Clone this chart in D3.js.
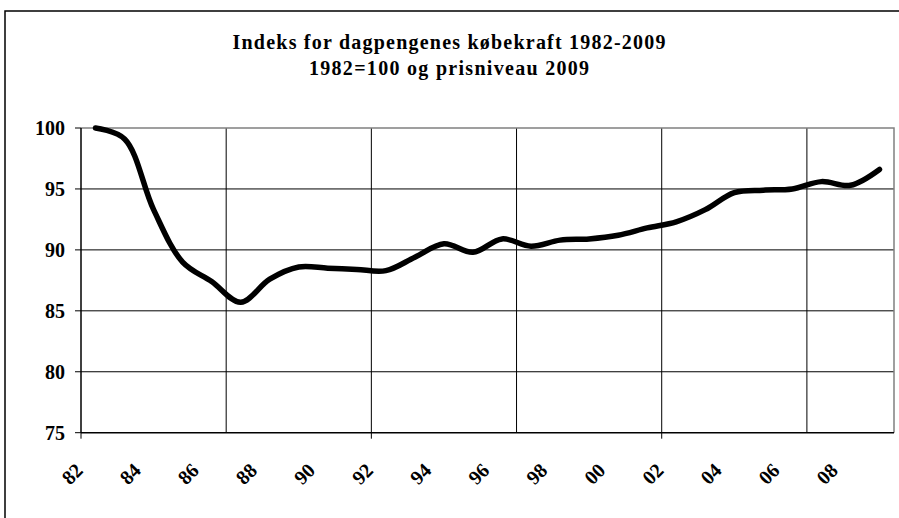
<!DOCTYPE html>
<html>
<head>
    <title>Indeks for dagpengenes købekraft 1982-2009</title>
    <script src="https://d3js.org/d3.v7.min.js"></script>
    <style>
        body { margin: 0; background: #fff; }
        text { font-family: "Liberation Serif", "Times New Roman", serif; font-weight: bold; fill: #000; }
    </style>
</head>
<body>
    <div id="chart"></div>

    <script>
        // data
        const years = d3.range(1982, 2010);
        const values = [100, 99.1, 93.3, 89.0, 87.4, 85.7, 87.6, 88.6, 88.5, 88.4,
                        88.3, 89.4, 90.5, 89.8, 90.9, 90.3, 90.8, 90.9, 91.2, 91.8,
                        92.3, 93.3, 94.7, 94.9, 95.0, 95.6, 95.3, 96.6];
        const yTicks = [75, 80, 85, 90, 95, 100];
        const labelYears = d3.range(1982, 2010, 2);
        const gridYears = [1987, 1992, 1997, 2002, 2007];
        const tickYears = [1982, 1992, 2002];
        const titleLines = ["Indeks for dagpengenes købekraft 1982-2009", "1982=100 og prisniveau 2009"];

        const width = 899;
        const height = 518;
        const plot = { left: 81, right: 894, top: 128, bottom: 432.7 };

        const svg = d3.select("#chart")
            .append("svg")
            .attr("width", width)
            .attr("height", height);

        // outer chart frame (runs off the picture on right and bottom)
        svg.append("rect")
            .attr("x", 5).attr("y", 11)
            .attr("width", 1000).attr("height", 600)
            .attr("fill", "none").attr("stroke", "#000").attr("stroke-width", 1.5);

        // title
        const titleWidths = [433, 280];
        svg.selectAll(".title")
            .data(titleLines)
            .enter()
            .append("text")
            .attr("class", "title")
            .attr("x", 449)
            .attr("y", (d, i) => 49 + i * 26)
            .attr("text-anchor", "middle")
            .attr("font-size", "20px")
            .attr("textLength", (d, i) => titleWidths[i])
            .attr("lengthAdjust", "spacing")
            .text(d => d);

        // category band scale: one band per year
        const x = d3.scaleBand()
            .domain(years)
            .range([plot.left, plot.right]);

        const y = d3.scaleLinear()
            .domain([75, 100])
            .range([plot.bottom, plot.top]);

        // horizontal gridlines
        svg.selectAll(".hgrid")
            .data(yTicks.filter(v => v > 75 && v < 100))
            .enter()
            .append("line")
            .attr("x1", plot.left).attr("x2", plot.right)
            .attr("y1", d => y(d)).attr("y2", d => y(d))
            .attr("stroke", "#000").attr("stroke-width", 1);

        // vertical gridlines at band boundaries
        svg.selectAll(".vgrid")
            .data(gridYears)
            .enter()
            .append("line")
            .attr("x1", d => x(d)).attr("x2", d => x(d))
            .attr("y1", plot.top).attr("y2", plot.bottom)
            .attr("stroke", "#000").attr("stroke-width", 1);

        // plot area border (top, right)
        svg.append("path")
            .attr("d", `M${plot.left},${y(100)}H${plot.right}V${plot.bottom}`)
            .attr("fill", "none").attr("stroke", "#808080").attr("stroke-width", 1.5);

        // y axis
        const yAxis = svg.append("g");
        yAxis.append("line")
            .attr("x1", plot.left).attr("x2", plot.left)
            .attr("y1", plot.top).attr("y2", plot.bottom)
            .attr("stroke", "#000").attr("stroke-width", 1.5);
        yAxis.selectAll(".ytick")
            .data(yTicks)
            .enter()
            .append("line")
            .attr("x1", plot.left - 6).attr("x2", plot.left)
            .attr("y1", d => y(d)).attr("y2", d => y(d))
            .attr("stroke", "#000").attr("stroke-width", 1);
        yAxis.selectAll(".ylab")
            .data(yTicks)
            .enter()
            .append("text")
            .attr("x", 65)
            .attr("y", d => y(d))
            .attr("dy", "0.35em")
            .attr("text-anchor", "end")
            .attr("font-size", "20px")
            .text(d => d);

        // x axis
        const xAxis = svg.append("g");
        xAxis.append("line")
            .attr("x1", plot.left).attr("x2", plot.right)
            .attr("y1", plot.bottom).attr("y2", plot.bottom)
            .attr("stroke", "#000").attr("stroke-width", 1.5);
        xAxis.selectAll(".xtick")
            .data(tickYears)
            .enter()
            .append("line")
            .attr("x1", d => x(d)).attr("x2", d => x(d))
            .attr("y1", plot.bottom).attr("y2", plot.bottom + 6)
            .attr("stroke", "#000").attr("stroke-width", 1);
        xAxis.selectAll(".xlab")
            .data(labelYears)
            .enter()
            .append("text")
            .attr("transform", d => `translate(${x(d) + x.bandwidth() / 2 - 23.5},${plot.bottom + 41}) rotate(-45)`)
            .attr("text-anchor", "middle")
            .attr("dy", "0.35em")
            .attr("font-size", "20px")
            .text(d => String(d).slice(2));

        // smoothed line
        const line = d3.line()
            .x((d, i) => x(years[i]) + x.bandwidth() / 2)
            .y(d => y(d))
            .curve(d3.curveCatmullRom.alpha(0.5));

        svg.append("path")
            .datum(values)
            .attr("d", line)
            .attr("fill", "none")
            .attr("stroke", "#000")
            .attr("stroke-width", 5.5)
            .attr("stroke-linecap", "round")
            .attr("stroke-linejoin", "round");
    </script>
</body>
</html>
